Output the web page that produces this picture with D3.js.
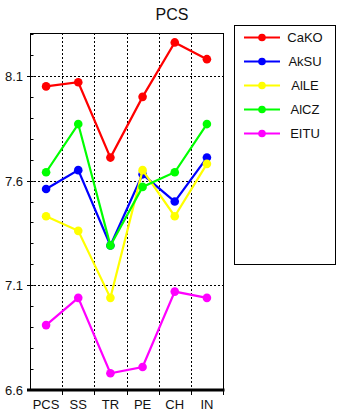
<!DOCTYPE html>
<html>
<head>
<meta charset="utf-8">
<script src="https://cdnjs.cloudflare.com/ajax/libs/d3/7.8.5/d3.min.js"></script>
<style>
  html, body { margin: 0; padding: 0; background: #fff; }
  svg { display: block; font-family: "Liberation Sans", Arial, sans-serif; }
</style>
</head>
<body>
<svg id="chart" width="341" height="414"></svg>
<script>
// Categories on the x axis
const categories = ["PCS", "SS", "TR", "PE", "CH", "IN"];

// Series names and colours
const seriesNames = ["CaKO", "AkSU", "AlLE", "AlCZ", "EITU"];
const seriesColors = ["#ff0000", "#0000ff", "#ffff00", "#00ff00", "#ff00ff"];

// Series values, one per category
const CaKO = [8.05, 8.07, 7.71, 8.00, 8.26, 8.18];
const AkSU = [7.56, 7.65, 7.29, 7.63, 7.50, 7.71];
const AlLE = [7.43, 7.36, 7.04, 7.65, 7.43, 7.68];
const AlCZ = [7.64, 7.87, 7.29, 7.57, 7.64, 7.87];
const EITU = [6.91, 7.04, 6.68, 6.71, 7.07, 7.04];
const seriesValues = [CaKO, AkSU, AlLE, AlCZ, EITU];

// Y axis labels and range
const yTicks = [6.6, 7.1, 7.6, 8.1];
const yMinorTicks = d3.range(6.6, 8.31, 0.1).map(v => +v.toFixed(1));
const yDomain = [6.6, 8.305];

const chartTitle = "PCS";

const svg = d3.select("#chart");
const plot = { left: 30, right: 223, top: 33, bottom: 390 };

const x = d3.scaleBand().domain(categories).range([plot.left, plot.right]);
const y = d3.scaleLinear().domain(yDomain).range([plot.bottom, plot.top]);

// Title
svg.append("text")
  .attr("x", 172).attr("y", 19.5)
  .attr("text-anchor", "middle")
  .attr("font-size", 16)
  .attr("fill", "#111")
  .text(chartTitle);

// Dotted grid: horizontal at labelled values, vertical at category boundaries
const grid = svg.append("g").attr("stroke", "#000").attr("stroke-width", 1)
  .attr("stroke-dasharray", "2,2");
yTicks.slice(1).forEach(v => {
  grid.append("line")
    .attr("x1", plot.left).attr("x2", plot.right)
    .attr("y1", Math.round(y(v)) + 0.5).attr("y2", Math.round(y(v)) + 0.5);
});
categories.slice(1).forEach(c => {
  const xv = Math.round(x(c)) + 0.5;
  grid.append("line")
    .attr("x1", xv).attr("x2", xv)
    .attr("y1", plot.top).attr("y2", plot.bottom);
});

// Plot frame
svg.append("rect")
  .attr("x", plot.left + 0.5).attr("y", plot.top + 0.5)
  .attr("width", plot.right - plot.left).attr("height", plot.bottom - plot.top)
  .attr("fill", "none").attr("stroke", "#000").attr("stroke-width", 1);

// Left axis: major ticks crossing the axis, minor ticks inside
const yAxisG = svg.append("g");
yMinorTicks.forEach(v => {
  const yy = Math.round(y(v)) + 0.5;
  yAxisG.append("line")
    .attr("x1", plot.left).attr("x2", plot.left + 3.5)
    .attr("y1", yy).attr("y2", yy)
    .attr("stroke", "#000");
});
yTicks.forEach(v => {
  const yy = Math.round(y(v)) + 0.5;
  yAxisG.append("line")
    .attr("x1", plot.left - 3).attr("x2", plot.left + 3.5)
    .attr("y1", yy).attr("y2", yy)
    .attr("stroke", "#000");
  yAxisG.append("text")
    .attr("x", plot.left - 7).attr("y", yy)
    .attr("dy", "0.36em")
    .attr("text-anchor", "end")
    .attr("font-size", 13)
    .attr("fill", "#111")
    .text(v.toFixed(1));
});

// Bottom axis: thick baseline, ticks at boundaries, category labels
const xAxisG = svg.append("g");
xAxisG.append("line")
  .attr("x1", plot.left - 3).attr("x2", plot.right + 1.5)
  .attr("y1", plot.bottom).attr("y2", plot.bottom)
  .attr("stroke", "#000").attr("stroke-width", 3);
categories.slice(1).concat(["__end"]).forEach((c, i) => {
  const xv = (c === "__end" ? plot.right : Math.round(x(c))) + 0.5;
  xAxisG.append("line")
    .attr("x1", xv).attr("x2", xv)
    .attr("y1", plot.bottom).attr("y2", plot.bottom + 5)
    .attr("stroke", "#000");
});
categories.forEach(c => {
  xAxisG.append("text")
    .attr("x", x(c) + x.bandwidth() / 2)
    .attr("y", 409)
    .attr("text-anchor", "middle")
    .attr("font-size", 13)
    .attr("fill", "#111")
    .text(c);
});

// Series lines with circular markers
const line = d3.line()
  .x((d, i) => x(categories[i]) + x.bandwidth() / 2)
  .y(d => y(d));

seriesValues.forEach((vals, si) => {
  const g = svg.append("g");
  g.append("path")
    .datum(vals)
    .attr("d", line)
    .attr("fill", "none")
    .attr("stroke", seriesColors[si])
    .attr("stroke-width", 2.2);
  g.selectAll("circle")
    .data(vals)
    .join("circle")
    .attr("cx", (d, i) => x(categories[i]) + x.bandwidth() / 2)
    .attr("cy", d => y(d))
    .attr("r", 4.3)
    .attr("fill", seriesColors[si]);
});

// Legend
const legend = svg.append("g");
legend.append("rect")
  .attr("x", 234.5).attr("y", 25.5)
  .attr("width", 101).attr("height", 239)
  .attr("fill", "#fff").attr("stroke", "#000");
seriesNames.forEach((name, i) => {
  const ly = 37.5 + i * 24;
  legend.append("line")
    .attr("x1", 244).attr("x2", 280)
    .attr("y1", ly).attr("y2", ly)
    .attr("stroke", seriesColors[i]).attr("stroke-width", 2);
  legend.append("circle")
    .attr("cx", 262).attr("cy", ly).attr("r", 3.8)
    .attr("fill", seriesColors[i]);
  legend.append("text")
    .attr("x", 305).attr("y", ly)
    .attr("dy", "0.36em")
    .attr("text-anchor", "middle")
    .attr("font-size", 13)
    .attr("fill", "#111")
    .text(name);
});
</script>
</body>
</html>
